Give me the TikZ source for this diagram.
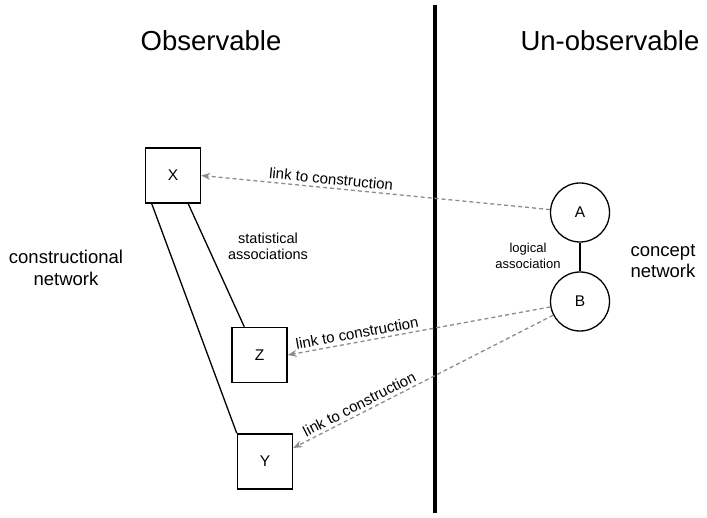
\documentclass[tikz,border=0pt]{standalone}
\usepackage{fontspec}
\setmainfont{Liberation Sans}
\usetikzlibrary{arrows.meta,calc}
\tikzset{
  boxnode/.style={draw, line width=1.5pt, minimum size=55pt, inner sep=0pt, font=\fontsize{15.5}{17}\selectfont},
  circnode/.style={draw, circle, line width=1.3pt, minimum size=59pt, inner sep=0pt, font=\fontsize{15.5}{17}\selectfont},
  linkline/.style={draw=black!45, line width=1.3pt, dash pattern=on 4pt off 3pt, -{Stealth[length=9pt,width=7pt]}},
  linklabel/.style={font=\fontsize{15}{17}\selectfont, sloped, above, inner sep=3pt},
  plainline/.style={line width=1.3pt},
  title/.style={font=\fontsize{27.5}{30}\selectfont},
  sidelabel/.style={font=\fontsize{18.5}{21.5}\selectfont, align=center},
  smalllabel/.style={font=\fontsize{14.5}{16}\selectfont, align=center}
}
\begin{document}
\begin{tikzpicture}[x=1pt,y=-1pt]
\useasboundingbox (0,0) rectangle (707,518);
% divider
\coordinate (top) at (435,5);
\coordinate (bot) at (435,513);
\draw[line width=3.4pt] (top) -- (bot);
% titles
\node[title] (obs) at (211,41) {Observable};
\node[title] (unobs) at (610,41) {Un-observable};
% boxes
\node[boxnode] (X) at (173,175.5) {X};
\node[boxnode] (Z) at (259.5,355) {Z};
\node[boxnode] (Y) at (265,461.5) {Y};
% circles
\node[circnode] (A) at (580,212.5) {A};
\node[circnode] (B) at (580,301.5) {B};
% network lines
\draw[plainline] ([xshift=7pt]X.south west) -- (Y.north west);
\draw[plainline] ([xshift=-13pt]X.south east) -- ([xshift=13pt]Z.north west);
\draw[line width=1.8pt] (A) -- (B);
% dashed links
\draw[linkline] (A) -- node[linklabel, pos=0.63] (l1) {link to construction} (X.east);
\draw[linkline] (B) -- node[linklabel, pos=0.73] (l2) {link to construction} (Z.east);
\draw[linkline] (B) -- node[linklabel, pos=0.73] (l3) {link to construction} ([yshift=13.5pt]Y.east);
% labels
\node[sidelabel] (cn) at (66,268) {constructional\\network};
\node[sidelabel] (kn) at (663,261) {concept\\network};
\node[smalllabel] (sa) at (268,246) {statistical\\associations};
\node[smalllabel, font=\fontsize{13}{15.5}\selectfont] (la) at (528,256) {logical\\association};
\end{tikzpicture}
\end{document}
